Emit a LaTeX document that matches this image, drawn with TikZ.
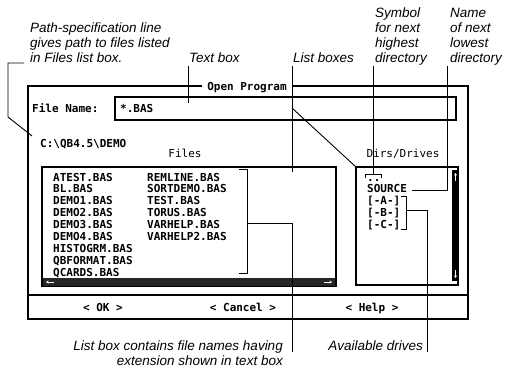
\documentclass[tikz,border=0pt]{standalone}
\usepackage{fontspec}
\setmainfont{Liberation Sans}
\newfontfamily\scrfont{DejaVu Sans Mono}
\usetikzlibrary{arrows.meta}
\begin{document}
\begin{tikzpicture}[x=1pt,y=-1pt,
  ann/.style={font=\itshape\fontsize{13.5}{15}\selectfont, inner sep=0pt, align=left},
  annr/.style={font=\itshape\fontsize{13.5}{15}\selectfont, inner sep=0pt, align=right},
  scr/.style={font=\scrfont\fontsize{11}{12}\selectfont, inner sep=0pt, text height=8pt, text depth=0pt},
  scrb/.style={font=\scrfont\bfseries\fontsize{11}{12}\selectfont, inner sep=0pt, text height=8pt, text depth=0pt},
  frame/.style={line width=1.5pt},
  lead/.style={line width=0.9pt},
  bar/.style={fill=black!85},
  barArrow/.style={white, line width=0.8pt, -{Stealth[length=2.5pt,width=3pt]}},
]
\useasboundingbox (0,0) rectangle (507,368);

% dialog frame
\draw[frame] (28,86) rectangle (468,319);
\node[scrb, fill=white, inner xsep=5pt] (title) at (247,86) {Open Program};
\draw[frame] (115,97) rectangle (456,120);
\node[scrb, anchor=west] (fname) at (32,108) {File Name:};
\node[scrb, anchor=west] (fval) at (120,108) {*.BAS};
\node[scrb, anchor=west] (path) at (40,143) {C:\textbackslash QB4.5\textbackslash DEMO};
\node[scr] (fileslbl) at (185,153) {Files};
\node[scr] (dirslbl) at (403,153) {Dirs/Drives};

% files list box
\draw[frame] (42,167) rectangle (336,286);
\fill[bar] (43,278) rectangle (335,286);
\draw[barArrow] (54,282) -- (46,282);
\draw[barArrow] (324,282) -- (332,282);
\foreach \n/\t [count=\i from 0] in {f1/ATEST.BAS,f2/BL.BAS,f3/DEMO1.BAS,f4/DEMO2.BAS,f5/DEMO3.BAS,f6/DEMO4.BAS,f7/HISTOGRM.BAS,f8/QBFORMAT.BAS,f9/QCARDS.BAS}
  \node[scrb, anchor=west] (\n) at (53,177+11.9*\i) {\t};
\foreach \n/\t [count=\i from 0] in {g1/REMLINE.BAS,g2/SORTDEMO.BAS,g3/TEST.BAS,g4/TORUS.BAS,g5/VARHELP.BAS,g6/VARHELP2.BAS}
  \node[scrb, anchor=west] (\n) at (147,177+11.9*\i) {\t};

% dirs box
\draw[frame] (356,167) rectangle (458,285);
\fill[black] (452,170) rectangle (459,281);
\draw[barArrow] (455.5,181) -- (455.5,173);
\draw[barArrow] (455.5,270) -- (455.5,278);
\foreach \n/\t [count=\i from 0] in {d0/..,d1/SOURCE,d2/[-A-],d3/[-B-],d4/[-C-]}
  \node[scrb, anchor=west] (\n) at (367,177+11.9*\i) {\t};

% buttons
\draw[frame] (28,295) -- (468,295);
\node[scrb] (ok) at (103,307) {< OK >};
\node[scrb] (cancel) at (243,307) {< Cancel >};
\node[scrb] (help) at (372,307) {< Help >};

% annotations
\node[ann, anchor=north west] (apath) at (30,23) {Path-specification line\\gives path to files listed\\in Files list box.};
\node[ann, anchor=north west] (atext) at (189,53) {Text box};
\node[ann, anchor=north west] (alist) at (293,53) {List boxes};
\node[ann, anchor=north west] (asym) at (375,8) {Symbol\\for next\\highest\\directory};
\node[ann, anchor=north west] (aname) at (450,8) {Name\\of next\\lowest\\directory};
\node[annr, anchor=north east] (acont) at (283,341) {List box contains file names having\\extension shown in text box};
\node[annr, anchor=north east] (adrv) at (423,341) {Available drives};

% leader coordinates
\coordinate (p1) at (24,63); \coordinate (p2) at (8,63); \coordinate (p3) at (8,117); \coordinate (p4) at (32,136);
\coordinate (t1) at (188,66); \coordinate (t2) at (188,103);
\coordinate (l1) at (292,66); \coordinate (l2) at (292,172); \coordinate (l3) at (292,108); \coordinate (l4) at (356,167);
\coordinate (s1) at (373,66); \coordinate (s2) at (373,174);
\coordinate (n1) at (447,66); \coordinate (n2) at (447,190); \coordinate (n3) at (412,190);
\coordinate (b1) at (239,169); \coordinate (b2) at (247,169); \coordinate (b3) at (247,273); \coordinate (b4) at (239,273);
\coordinate (b5) at (247,223); \coordinate (b6) at (292,223); \coordinate (b7) at (292,352);
\coordinate (r1) at (401,196); \coordinate (r2) at (406,196); \coordinate (r3) at (406,229); \coordinate (r4) at (401,229);
\coordinate (r5) at (406,210); \coordinate (r6) at (427,210); \coordinate (r7) at (427,352);

\draw[lead] (p1) -- (p2) -- (p3) -- (p4);
\draw[lead] (t1) -- (t2);
\draw[lead] (l1) -- (l2);
\draw[lead] (l3) -- (l4);
\draw[lead] (s1) -- (s2);
\draw[lead] (365,178) -- (365,174) -- (381,174) -- (381,178);
\draw[lead] (n1) -- (n2) -- (n3);
\draw[lead] (b1) -- (b2) -- (b3) -- (b4);
\draw[lead] (b5) -- (b6) -- (b7);
\draw[lead] (r1) -- (r2) -- (r3) -- (r4);
\draw[lead] (r5) -- (r6) -- (r7);
\end{tikzpicture}
\end{document}
